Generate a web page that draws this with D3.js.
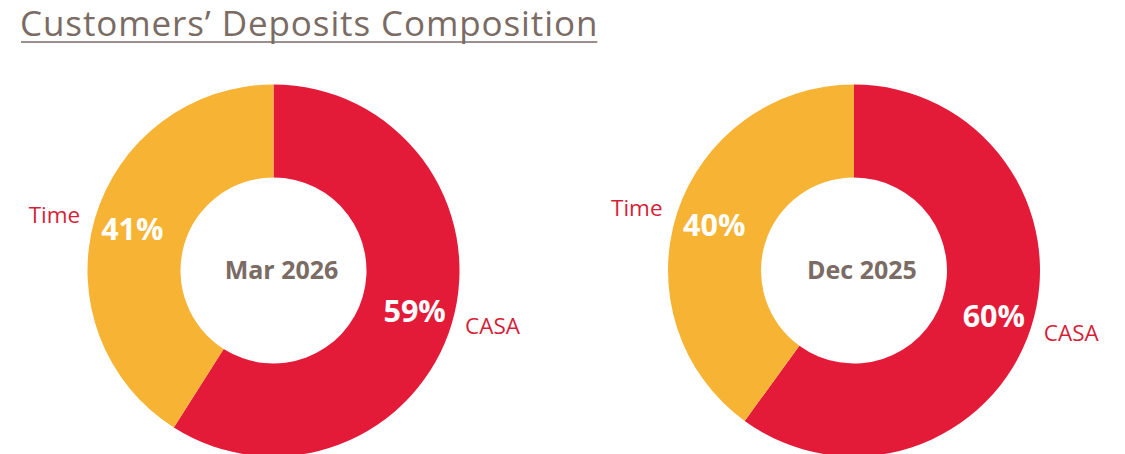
<!DOCTYPE html>
<html><head><meta charset="utf-8">
<script src="https://cdn.jsdelivr.net/npm/d3@7"></script>
<style>body{margin:0;background:#fff;overflow:hidden}</style>
</head><body>
<svg id="c" width="1125" height="454"></svg>
<script>
const title = "Customers’ Deposits Composition";
const categories = ["CASA", "Time"];
const periods = ["Mar 2026", "Dec 2025"];
const mar2026 = [59, 41];
const dec2025 = [60, 40];
const seriesValues = [mar2026, dec2025];

const colors = {CASA: "#E41A39", Time: "#F7B334"};
const svg = d3.select("#c");
const textGray = "#7A6B64";

const t = svg.append("text").attr("x", 20).attr("y", 36)
  .attr("font-family", "Open Sans").attr("font-size", 35).attr("letter-spacing", 0.9)
  .attr("fill", textGray).text(title);
const tb = t.node().getBBox();
svg.append("line").attr("x1", tb.x + 1).attr("x2", tb.x + tb.width - 1)
  .attr("y1", 42).attr("y2", 42).attr("stroke", textGray).attr("stroke-width", 1.6);

const centersX = d3.scalePoint().domain(periods).range([273.5, 854]);
const cy = 270.5, R = 186, r = 93;
const pie = d3.pie().sort(null).value(d => d.v);
const arc = d3.arc().innerRadius(r).outerRadius(R);
const pctArc = d3.arc().innerRadius(147).outerRadius(147);
const lblArc = d3.arc().innerRadius(226).outerRadius(226);

periods.forEach((p, i) => {
  const g = svg.append("g").attr("transform", `translate(${centersX(p)},${cy})`);
  const data = pie(categories.map((c, j) => ({c, v: seriesValues[i][j]})));
  g.selectAll("path").data(data).join("path")
    .attr("d", arc).attr("fill", d => colors[d.data.c]);
  g.selectAll("text.pct").data(data).join("text").attr("class", "pct")
    .attr("transform", d => `translate(${pctArc.centroid(d)})`)
    .attr("text-anchor", "middle").attr("dy", "0.35em")
    .attr("font-family", "Open Sans").attr("font-weight", 700).attr("font-size", 30.5)
    .attr("fill", "#fff").text(d => d.data.v + "%");
  g.selectAll("text.cat").data(data).join("text").attr("class", "cat")
    .attr("transform", d => {
      const m = (d.startAngle + d.endAngle) / 2 - 0.035;
      return `translate(${lblArc.centroid({startAngle: m, endAngle: m})})`;
    })
    .attr("text-anchor", "middle").attr("dy", "0.35em")
    .attr("font-family", "Open Sans").attr("font-size", 22.5)
    .attr("fill", "#D51F3A").text(d => d.data.c);
  g.append("text").attr("x", 8).attr("dy", "0.35em").attr("text-anchor", "middle")
    .attr("font-family", "Open Sans").attr("font-weight", 700).attr("font-size", 25)
    .attr("fill", textGray).text(p);
});
</script>
</body></html>
